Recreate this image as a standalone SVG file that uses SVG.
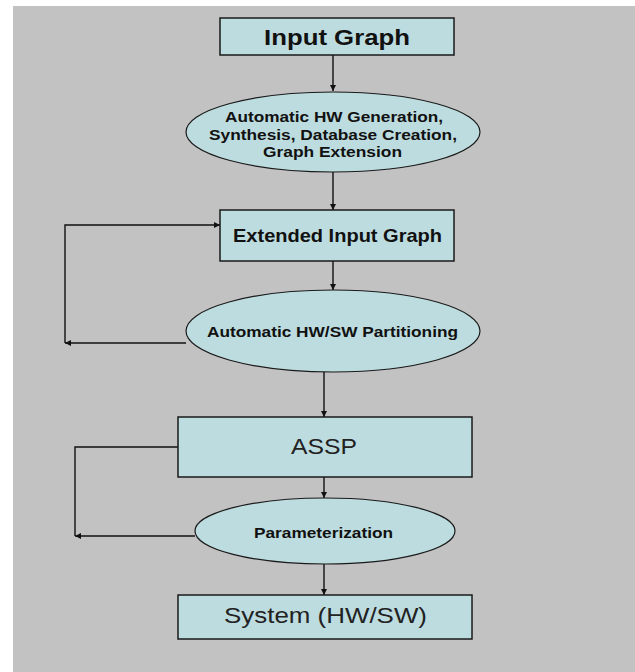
<svg xmlns="http://www.w3.org/2000/svg" width="635" height="672" viewBox="0 0 635 672">
<defs>
<marker id="ah" viewBox="0 0 10 10" refX="10" refY="5" markerWidth="7" markerHeight="6" markerUnits="userSpaceOnUse" orient="auto">
<path d="M0,0 L10,5 L0,10 z" fill="#111"/>
</marker>
<style>
.box{fill:#bddcdf;stroke:#1a1a1a;stroke-width:1.5}
.ell{fill:#bddcdf;stroke:#1a1a1a;stroke-width:1.2}
.b{font-family:"Liberation Sans",Arial,sans-serif;font-weight:bold;fill:#111;text-anchor:middle}
.r{font-family:"Liberation Sans",Arial,sans-serif;fill:#222;text-anchor:middle}
.c{fill:none;stroke:#111;stroke-width:1.4}
</style>
</defs>
<rect x="0" y="0" width="635" height="672" fill="#ffffff"/>
<rect x="13" y="6" width="622" height="666" fill="#c2c2c2"/>
<g id="connectors">
<line class="c" x1="333" y1="55" x2="333" y2="91" marker-end="url(#ah)"/>
<line class="c" x1="333" y1="172" x2="333" y2="210" marker-end="url(#ah)"/>
<line class="c" x1="333" y1="261" x2="333" y2="290" marker-end="url(#ah)"/>
<line class="c" x1="324" y1="372" x2="324" y2="417" marker-end="url(#ah)"/>
<line class="c" x1="324" y1="477" x2="324" y2="498" marker-end="url(#ah)"/>
<line class="c" x1="324" y1="564" x2="324" y2="595" marker-end="url(#ah)"/>
<polyline class="c" points="65,343 65,225 220,225" marker-end="url(#ah)"/>
<line class="c" x1="186" y1="343" x2="65" y2="343" marker-end="url(#ah)"/>
<polyline class="c" points="178,447 75,447 75,536"/>
<line class="c" x1="195" y1="536" x2="75" y2="536" marker-end="url(#ah)"/>
</g>
<g id="input-graph">
<rect class="box" x="220" y="18" width="234" height="37"/>
<text class="b" x="337" y="45" font-size="22" textLength="146" lengthAdjust="spacingAndGlyphs">Input Graph</text>
</g>
<g id="hw-generation">
<ellipse class="ell" cx="333" cy="132" rx="147" ry="40"/>
<text class="b" x="334" y="122" font-size="14.5" textLength="218" lengthAdjust="spacingAndGlyphs">Automatic HW Generation,</text>
<text class="b" x="333" y="140" font-size="14.5" textLength="248" lengthAdjust="spacingAndGlyphs">Synthesis, Database Creation,</text>
<text class="b" x="332.5" y="157" font-size="14.5" textLength="139" lengthAdjust="spacingAndGlyphs">Graph Extension</text>
</g>
<g id="extended-input-graph">
<rect class="box" x="220" y="210" width="234" height="51"/>
<text class="b" x="337.5" y="242" font-size="18.5" textLength="209" lengthAdjust="spacingAndGlyphs">Extended Input Graph</text>
</g>
<g id="partitioning">
<ellipse class="ell" cx="333" cy="331" rx="147" ry="41"/>
<text class="b" x="332.5" y="337" font-size="14.5" textLength="251" lengthAdjust="spacingAndGlyphs">Automatic HW/SW Partitioning</text>
</g>
<g id="assp">
<rect class="box" x="178" y="417" width="294" height="60"/>
<text class="r" x="324" y="454" font-size="22" textLength="66" lengthAdjust="spacingAndGlyphs">ASSP</text>
</g>
<g id="parameterization">
<ellipse class="ell" cx="325" cy="531" rx="130" ry="33"/>
<text class="b" x="323.5" y="538" font-size="14" textLength="139" lengthAdjust="spacingAndGlyphs">Parameterization</text>
</g>
<g id="system">
<rect class="box" x="178" y="595" width="294" height="44"/>
<text class="r" x="325.5" y="623" font-size="22" textLength="203" lengthAdjust="spacingAndGlyphs">System (HW/SW)</text>
</g>
</svg>
